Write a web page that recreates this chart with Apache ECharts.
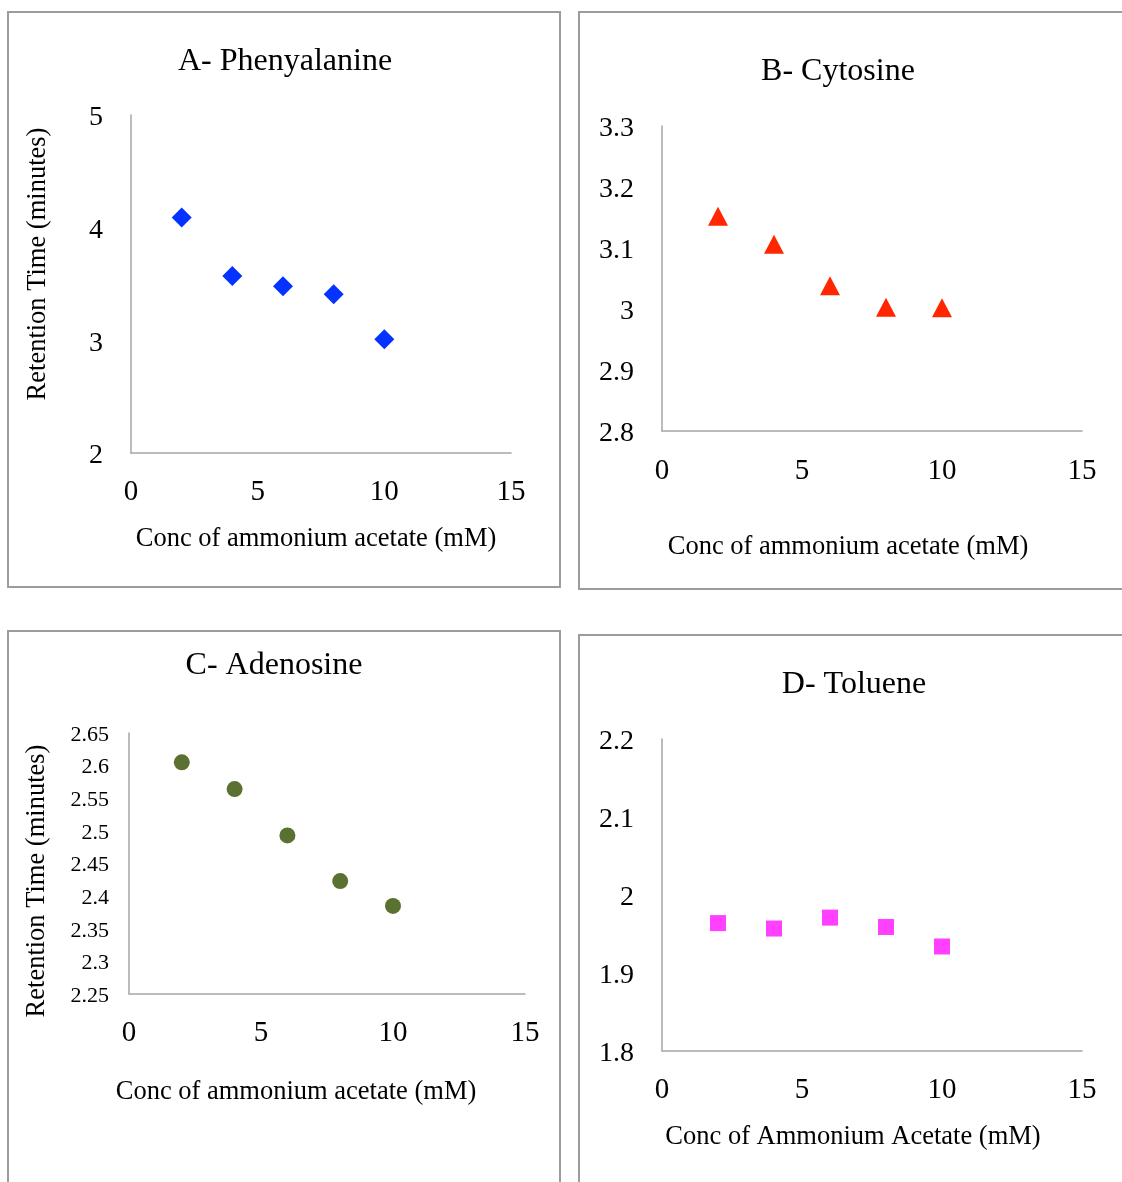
<!DOCTYPE html>
<html>
<head>
<meta charset="utf-8">
<script src="https://cdn.jsdelivr.net/npm/echarts@6/dist/echarts.min.js"></script>
<style>
html,body{margin:0;padding:0;background:#fff;}
#chart{width:1122px;height:1182px;}
</style>
</head>
<body>
<div id="chart"></div>
<script>
// Data
const concentrations = [2, 4, 6, 8, 10];
const phenylalanine = [4.09, 3.57, 3.48, 3.41, 3.01];
const cytosine = [3.152, 3.106, 3.038, 3.003, 3.002];
const adenosine = [2.605, 2.564, 2.493, 2.423, 2.385];
const toluene = [1.964, 1.957, 1.971, 1.959, 1.934];

const titles = ['A- Phenyalanine', 'B- Cytosine', 'C- Adenosine', 'D- Toluene'];
const xNames = ['Conc of ammonium acetate (mM)', 'Conc of ammonium acetate (mM)',
                'Conc of ammonium acetate (mM)', 'Conc of Ammonium Acetate (mM)'];
const yName = 'Retention Time (minutes)';

const FONT = '"Liberation Serif", "Times New Roman", serif';
const axisGrey = '#a6a6a6';

function pairs(ys) { return concentrations.map((x, i) => [x, ys[i]]); }

const grids = [
  {left: 131, top: 115, width: 380, height: 338},
  {left: 662, top: 126, width: 420, height: 305},
  {left: 129, top: 733, width: 396, height: 261},
  {left: 662, top: 739, width: 420, height: 312}
].map(g => Object.assign({outerBoundsMode: 'none', containLabel: false}, g));

const yRanges = [
  {min: 2, max: 5, interval: 1, fs: 28, yName: true, gap: 79, pad: [0, 0, 0, 40]},
  {min: 2.8, max: 3.3, interval: 0.1, fs: 28, yName: false},
  {min: 2.25, max: 2.65, interval: 0.05, fs: 22, yName: true, gap: 78, pad: [0, 35, 0, 0]},
  {min: 1.8, max: 2.2, interval: 0.1, fs: 28, yName: false}
];
const xNameGaps = [73, 103, 85, 73];
const xNamePads = [[0, 10, 0, 0], [0, 48, 0, 0], [0, 62, 0, 0], [0, 38, 0, 0]];
const xLabelMargins = [25, 26, 25, 25];

const xAxes = grids.map((g, i) => ({
  gridIndex: i, type: 'value', min: 0, max: 15, interval: 5,
  name: xNames[i], nameLocation: 'middle', nameGap: xNameGaps[i],
  nameTextStyle: {fontFamily: FONT, fontSize: 26.5, color: '#000', padding: xNamePads[i]},
  axisLine: {show: true, onZero: false, lineStyle: {color: axisGrey, width: 1.5}},
  axisTick: {show: false}, splitLine: {show: false},
  axisLabel: {fontFamily: FONT, fontSize: 29, color: '#000', margin: xLabelMargins[i]}
}));

const yAxes = yRanges.map((r, i) => ({
  gridIndex: i, type: 'value', min: r.min, max: r.max, interval: r.interval,
  name: r.yName ? yName : '', nameLocation: 'middle', nameGap: r.gap || 0, nameRotate: 90,
  nameTextStyle: {fontFamily: FONT, fontSize: 26.5, color: '#000', padding: r.pad || 0},
  axisLine: {show: true, onZero: false, lineStyle: {color: axisGrey, width: 1.5}},
  axisTick: {show: false}, splitLine: {show: false},
  axisLabel: {
    margin: i === 2 ? 20 : 28,
    formatter: v => '{t|' + echarts.format.addCommas(+v.toFixed(4)) + '}',
    rich: {t: {fontFamily: FONT, fontSize: r.fs, color: '#000',
               padding: i === 2 ? [4, 0, 0, 0] : [6, 0, 0, 0]}}
  }
}));

const seriesDefs = [
  {data: phenylalanine, symbol: 'diamond', size: [20, 20], color: '#0433ff'},
  {data: cytosine, symbol: 'triangle', size: [20, 19], color: '#ff2600'},
  {data: adenosine, symbol: 'circle', size: 16, color: '#5a7131'},
  {data: toluene, symbol: 'rect', size: 16, color: '#ff40ff'}
];

const series = seriesDefs.map((s, i) => ({
  type: 'scatter', xAxisIndex: i, yAxisIndex: i,
  data: pairs(s.data), symbol: s.symbol, symbolSize: s.size,
  itemStyle: {color: s.color, opacity: 1}, silent: true
}));

const titleCenters = [[285, 62], [838, 72], [274, 666], [854, 685]];
const title = titles.map((t, i) => ({
  text: t, left: titleCenters[i][0], top: titleCenters[i][1],
  textAlign: 'center', textVerticalAlign: 'middle', padding: 0,
  textStyle: {fontFamily: FONT, fontSize: 32, fontWeight: 'normal', color: '#000'}
}));

const borderStyle = {fill: 'none', stroke: '#9c9c9c', lineWidth: 2};
const graphic = [
  {type: 'rect', shape: {x: 8, y: 12, width: 552, height: 575}, style: borderStyle, silent: true},
  {type: 'rect', shape: {x: 579, y: 12, width: 560, height: 577}, style: borderStyle, silent: true},
  {type: 'rect', shape: {x: 8, y: 631, width: 552, height: 600}, style: borderStyle, silent: true},
  {type: 'rect', shape: {x: 579, y: 635, width: 560, height: 600}, style: borderStyle, silent: true}
];

const chart = echarts.init(document.getElementById('chart'), null, {renderer: 'canvas'});
chart.setOption({
  backgroundColor: '#fff',
  animation: false,
  title: title,
  grid: grids,
  xAxis: xAxes,
  yAxis: yAxes,
  series: series,
  graphic: graphic
});
</script>
</body>
</html>
